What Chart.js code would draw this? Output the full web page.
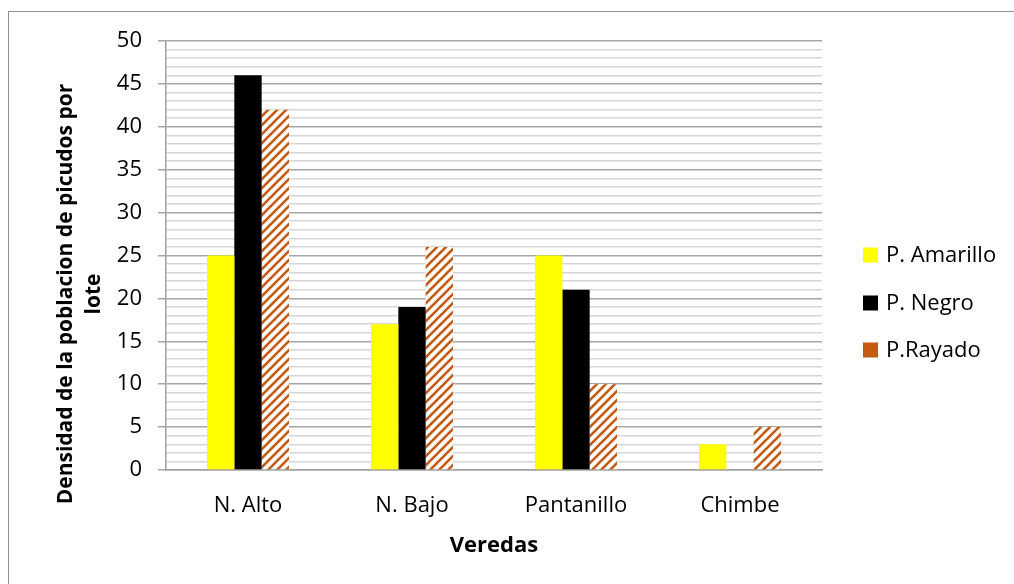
<!DOCTYPE html>
<html>
<head>
<meta charset="utf-8">
<script src="https://cdn.jsdelivr.net/npm/chart.js@4"></script>
<style>
  html, body { margin: 0; padding: 0; background: #fff; }
  #wrap { width: 1014px; height: 584px; position: relative; }
</style>
</head>
<body>
<div id="wrap"><canvas id="picudos" width="1014" height="584"></canvas></div>
<script>
  const veredas   = ['N. Alto', 'N. Bajo', 'Pantanillo', 'Chimbe'];
  const amarillo  = [25, 17, 25, 3];
  const negro     = [46, 19, 21, 0];
  const rayado    = [42, 26, 10, 5];
  const serieNames = ['P. Amarillo', 'P. Negro', 'P.Rayado'];
  const yTitle    = ['Densidad de la poblacion de picudos por', 'lote'];

  const ORANGE = '#C55A11';
  const FONT = "'Open Sans', 'Noto Sans', sans-serif";

  /* ── diagonal hatch for P.Rayado ── */
  function hatch(color) {
    const s = 9;
    const c = document.createElement('canvas');
    c.width = s; c.height = s;
    const g = c.getContext('2d');
    g.fillStyle = '#fff';
    g.fillRect(0, 0, s, s);
    g.strokeStyle = color;
    g.lineWidth = 2.6;
    g.lineCap = 'square';
    [-s, 0, s].forEach(dx => {
      g.beginPath();
      g.moveTo(dx, s);
      g.lineTo(dx + s, 0);
      g.stroke();
    });
    return g.createPattern(c, 'repeat');
  }

  /* ── outer frame ── */
  const framePlugin = {
    id: 'frame',
    beforeDraw(chart) {
      const ctx = chart.ctx;
      ctx.save();
      ctx.fillStyle = '#fff';
      ctx.fillRect(0, 0, chart.width, chart.height);
      ctx.strokeStyle = '#8f8f8f';
      ctx.lineWidth = 1;
      ctx.strokeRect(8.5, 11.5, 1200, 800);
      ctx.restore();
    }
  };

  /* ── rotated y title, two lines ── */
  const yTitlePlugin = {
    id: 'yTitle',
    afterDraw(chart) {
      const ctx = chart.ctx;
      ctx.save();
      ctx.fillStyle = '#000';
      ctx.font = 'bold 21px ' + FONT;
      ctx.textAlign = 'center';
      ctx.textBaseline = 'alphabetic';
      const base = [72, 100];
      yTitle.forEach((t, i) => {
        ctx.save();
        ctx.translate(base[i], 294);
        ctx.rotate(-Math.PI / 2);
        ctx.fillText(t, 0, 0);
        ctx.restore();
      });
      ctx.restore();
    }
  };

  /* ── legend on the right ── */
  const legendPlugin = {
    id: 'sideLegend',
    afterDraw(chart) {
      const ctx = chart.ctx;
      const swatch = ['#FFFF00', '#000000', ORANGE];
      const rows = [255, 303, 350];
      ctx.save();
      ctx.font = '22px ' + FONT;
      ctx.textBaseline = 'middle';
      ctx.textAlign = 'left';
      serieNames.forEach((name, i) => {
        ctx.fillStyle = swatch[i];
        ctx.fillRect(863, rows[i] - 7.5, 15, 15);
        ctx.fillStyle = '#000';
        ctx.fillText(name, 886, rows[i] + 1);
      });
      ctx.restore();
    }
  };

  Chart.defaults.font.family = FONT;
  Chart.defaults.font.size = 22;
  Chart.defaults.color = '#000';

  new Chart(document.getElementById('picudos'), {
    type: 'bar',
    data: {
      labels: veredas,
      datasets: [
        { label: serieNames[0], data: amarillo, backgroundColor: '#FFFF00' },
        { label: serieNames[1], data: negro,    backgroundColor: '#000000' },
        { label: serieNames[2], data: rayado,   backgroundColor: hatch(ORANGE) },
      ],
    },
    options: {
      responsive: false,
      animation: false,
      events: [],
      categoryPercentage: 0.5,
      barPercentage: 1,
      layout: { padding: { left: 0, top: 41, right: 192, bottom: 0 } },
      plugins: { legend: { display: false }, tooltip: { enabled: false } },
      scales: {
        x: {
          afterFit: s => { s.height = 114; },
          grid: { display: false, drawTicks: false },
          border: { color: '#a0a0a0', width: 1.5 },
          ticks: { padding: 23 },
          title: {
            display: true,
            text: 'Veredas',
            font: { size: 22, weight: 'bold' },
            padding: { top: 0, bottom: 25 },
          },
        },
        y: {
          min: 0,
          max: 50,
          afterFit: s => { s.width = 166; },
          border: { color: '#a0a0a0', width: 1.5 },
          grid: {
            tickLength: 8,
            color: c => (c.tick && c.tick.value % 5 === 0) ? '#a6a6a6' : '#d6d6d6',
            lineWidth: 1.5,
            tickColor: c => (c.tick && c.tick.value % 5 === 0) ? '#a6a6a6' : 'rgba(0,0,0,0)',
          },
          ticks: {
            stepSize: 1,
            autoSkip: false,
            padding: 16,
            callback: v => (v % 5 === 0 ? v : ''),
          },
        },
      },
    },
    plugins: [framePlugin, yTitlePlugin, legendPlugin],
  });
</script>
</body>
</html>
